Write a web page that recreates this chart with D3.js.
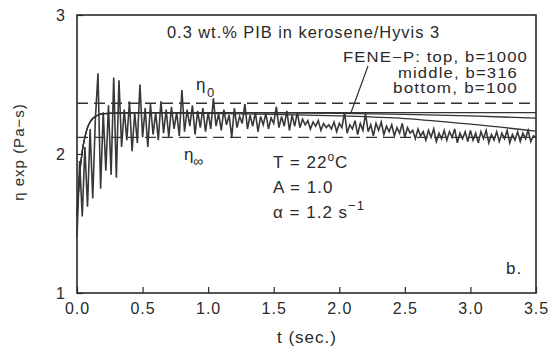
<!DOCTYPE html>
<html>
<head>
<meta charset="utf-8">
<script src="https://cdn.jsdelivr.net/npm/d3@7"></script>
<style>
	body { margin: 0; background: #fff; }
	svg text { font-family: "Liberation Sans", Arial, sans-serif; fill: #2a2a2a; letter-spacing: 1px; }
</style>
</head>
<body>
<svg id="plot" width="553" height="347" viewBox="0 0 553 347"></svg>
<script>

// measured trace, sampled every 0.02 s
const exp_t0 = 0, exp_dt = 0.02;
const exp_eta = [
	1.40, 1.95, 1.55, 2.05, 1.62, 2.18, 1.68, 2.25, 2.58, 1.75,
	2.30, 1.88, 2.35, 1.85, 2.55, 1.83, 2.53, 2.05, 2.32, 2.10,
	2.38, 2.02, 2.30, 2.08, 2.50, 2.12, 2.33, 2.05, 2.36, 2.14,
	2.30, 2.10, 2.38, 2.15, 2.32, 2.12, 2.34, 2.18, 2.30, 2.13,
	2.46, 2.16, 2.32, 2.20, 2.35, 2.14, 2.31, 2.19, 2.33, 2.16,
	2.30, 2.18, 2.40, 2.20, 2.29, 2.17, 2.32, 2.21, 2.28, 2.12,
	2.33, 2.19, 2.27, 2.22, 2.36, 2.18, 2.28, 2.20, 2.30, 2.16,
	2.27, 2.21, 2.29, 2.18, 2.26, 2.22, 2.34, 2.19, 2.27, 2.20,
	2.31, 2.17, 2.28, 2.20, 2.30, 2.19, 2.25, 2.21, 2.24, 2.18,
	2.23, 2.20, 2.24, 2.17, 2.22, 2.19, 2.21, 2.18, 2.23, 2.16,
	2.22, 2.19, 2.30, 2.15, 2.21, 2.18, 2.24, 2.14, 2.22, 2.17,
	2.29, 2.16, 2.21, 2.13, 2.22, 2.17, 2.23, 2.14, 2.20, 2.16,
	2.21, 2.13, 2.19, 2.15, 2.22, 2.12, 2.19, 2.15, 2.17, 2.11,
	2.18, 2.13, 2.16, 2.10, 2.17, 2.12, 2.18, 2.09, 2.15, 2.11,
	2.17, 2.10, 2.16, 2.12, 2.18, 2.08, 2.15, 2.11, 2.16, 2.09,
	2.17, 2.10, 2.15, 2.08, 2.16, 2.11, 2.17, 2.08, 2.14, 2.10,
	2.16, 2.09, 2.15, 2.11, 2.17, 2.08, 2.14, 2.10, 2.16, 2.09,
	2.15, 2.11, 2.17, 2.09, 2.13, 2.12
];

// FENE-P model curves
const fene_t      = [0, 0.02, 0.04, 0.06, 0.08, 0.10, 0.12, 0.15, 0.20, 0.30, 0.50, 1.0, 1.5, 2.0, 2.5, 3.0, 3.5];
const fene_top    = [1.55, 1.85, 2.02, 2.12, 2.19, 2.23, 2.255, 2.275, 2.29, 2.295, 2.298, 2.298, 2.298, 2.298, 2.298, 2.298, 2.298];
const fene_middle = [1.55, 1.85, 2.02, 2.12, 2.19, 2.23, 2.255, 2.275, 2.29, 2.295, 2.298, 2.298, 2.296, 2.292, 2.285, 2.274, 2.258];
const fene_bottom = [1.55, 1.85, 2.02, 2.12, 2.19, 2.23, 2.255, 2.275, 2.29, 2.295, 2.296, 2.292, 2.285, 2.274, 2.255, 2.215, 2.165];

const eta_0 = 2.365, eta_inf = 2.12;

const x_major = [0, 0.5, 1.0, 1.5, 2.0, 2.5, 3.0, 3.5];
const y_major = [1, 2, 3];

const svg = d3.select('#plot');
const x = d3.scaleLinear().domain([0, 3.5]).range([77, 536]);
const y = d3.scaleLinear().domain([1, 3]).range([293, 15]);

// frame
svg.append('rect')
	.attr('x', x(0)).attr('y', y(3))
	.attr('width', x(3.5) - x(0)).attr('height', y(1) - y(3))
	.attr('fill', 'none').attr('stroke', '#2a2a2a').attr('stroke-width', 1.6);

// x ticks (inward)
const gx = svg.append('g').attr('transform', `translate(0,${y(1)})`);
gx.call(d3.axisBottom(x).tickValues(d3.range(0, 3.51, 0.1)).tickSize(-3).tickFormat(''));
gx.call(d3.axisBottom(x).tickValues(x_major).tickSize(-6).tickPadding(10).tickFormat(d3.format('.1f')));
gx.selectAll('.domain').remove();
gx.selectAll('text').attr('font-size', 16).style('font-family', '"Liberation Sans", Arial, sans-serif');
gx.selectAll('line').attr('stroke', '#2a2a2a').attr('stroke-width', 1.2);

// y ticks (inward)
const gy = svg.append('g').attr('transform', `translate(${x(0)},0)`);
gy.call(d3.axisLeft(y).tickValues(d3.range(1, 3.01, 0.2)).tickSize(-3).tickFormat(''));
gy.call(d3.axisLeft(y).tickValues(y_major).tickSize(-6).tickPadding(11).tickFormat(d3.format('d')));
gy.selectAll('.domain').remove();
gy.selectAll('text').attr('font-size', 16).style('font-family', '"Liberation Sans", Arial, sans-serif');
gy.selectAll('line').attr('stroke', '#2a2a2a').attr('stroke-width', 1.2);

// dashed eta_0 / eta_inf
svg.selectAll('line.ref')
	.data([eta_0, eta_inf])
	.enter().append('line')
	.attr('class', 'ref')
	.attr('x1', x(0)).attr('x2', x(3.5))
	.attr('y1', d => y(d)).attr('y2', d => y(d))
	.attr('stroke', '#333').attr('stroke-width', 1.3)
	.attr('stroke-dasharray', '11,6');

// experimental trace
const exp_points = exp_eta.map((v, i) => [exp_t0 + i * exp_dt, v]);
svg.append('path')
	.datum(exp_points)
	.attr('d', d3.line().x(d => x(d[0])).y(d => y(d[1])))
	.attr('fill', 'none').attr('stroke', '#383838').attr('stroke-width', 1.6)
	.attr('stroke-linejoin', 'miter');

// model curves
const curve_line = d3.line().x((d, i) => x(fene_t[i])).y(d => y(d)).curve(d3.curveMonotoneX);
svg.selectAll('path.fene')
	.data([fene_top, fene_middle, fene_bottom])
	.enter().append('path')
	.attr('class', 'fene')
	.attr('d', curve_line)
	.attr('fill', 'none').attr('stroke', '#333').attr('stroke-width', 1.3);

// labels
svg.append('text').attr('x', 167).attr('y', 38).attr('font-size', 17)
	.attr('textLength', 273).attr('lengthAdjust', 'spacingAndGlyphs')
	.text('0.3 wt.% PIB in kerosene/Hyvis 3');

const fene_lines = [
	{ s: 'FENE\u2212P: top, b=1000', x: 343, y: 62, w: 185 },
	{ s: 'middle, b=316', x: 398, y: 77.5, w: 120 },
	{ s: 'bottom, b=100', x: 393, y: 93, w: 125 }
];
svg.selectAll('text.fene')
	.data(fene_lines)
	.enter().append('text')
	.attr('class', 'fene')
	.attr('x', d => d.x).attr('y', d => d.y).attr('font-size', 14.5)
	.attr('textLength', d => d.w).attr('lengthAdjust', 'spacingAndGlyphs')
	.text(d => d.s);

svg.append('line')
	.attr('x1', 368).attr('y1', 66).attr('x2', 351).attr('y2', y(fene_top[12]))
	.attr('stroke', '#333').attr('stroke-width', 1.2);

// eta_0 and eta_inf
svg.append('text').attr('x', 196).attr('y', 90).attr('font-size', 17).text('\u03b7');
svg.append('text').attr('x', 207).attr('y', 97).attr('font-size', 13).text('0');
svg.append('text').attr('x', 184).attr('y', 160).attr('font-size', 17).text('\u03b7');
svg.append('text').attr('x', 193).attr('y', 166).attr('font-size', 14).text('\u221e');

// conditions
const cond = svg.append('g').attr('font-size', 17);
const tline = cond.append('text').attr('x', 273).attr('y', 168);
tline.append('tspan').text('T = 22');
tline.append('tspan').attr('font-size', 12).attr('dy', -7).text('o');
tline.append('tspan').attr('dy', 7).text('C');
cond.append('text').attr('x', 273).attr('y', 193).text('A = 1.0');
const aline = cond.append('text').attr('x', 273).attr('y', 218);
aline.append('tspan').text('\u03b1 = 1.2 s');
aline.append('tspan').attr('font-size', 13).attr('dy', -8).text('\u22121');

svg.append('text').attr('x', 506).attr('y', 274).attr('font-size', 17).text('b.');

// axis titles
svg.append('text').attr('x', 307).attr('y', 343).attr('font-size', 17)
	.attr('text-anchor', 'middle').text('t (sec.)');

const ylab = svg.append('text')
	.attr('transform', 'translate(24,152) rotate(-90)')
	.attr('text-anchor', 'middle').attr('font-size', 15);
ylab.append('tspan').text('\u03b7 exp (Pa\u2212s)');

</script>
</body>
</html>
